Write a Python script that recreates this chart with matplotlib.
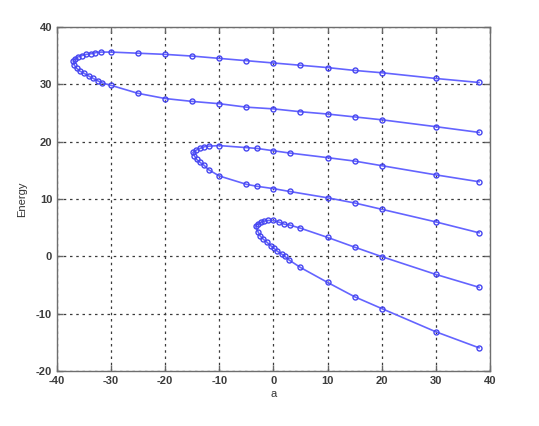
import numpy as np
import matplotlib
matplotlib.use("Agg")
import matplotlib.pyplot as plt

plt.rcParams['font.family'] = ['Liberation Sans', 'DejaVu Sans']
plt.rcParams['axes.unicode_minus'] = False

# curve 1 (top loop), traced from upper right end round the turn to lower right end
a1 = [38, 30, 20, 15, 10, 5, 0, -5, -10, -15, -20, -25, -30,
      -31.9, -32.9, -33.8, -34.6, -35.4, -36.1, -36.7, -37.0,
      -36.8, -36.4, -35.8, -35.0, -34.1, -33.3, -32.5, -31.6,
      -30, -25, -20, -15, -10, -5, 0, 5, 10, 15, 20, 30, 38]
e1 = [30.3, 31.0, 32.0, 32.4, 32.9, 33.3, 33.7, 34.1, 34.5, 34.9, 35.2, 35.4, 35.6,
      35.6, 35.5, 35.3, 35.2, 35.0, 34.8, 34.4, 34.0,
      33.3, 32.8, 32.3, 31.9, 31.4, 31.0, 30.6, 30.2,
      29.8, 28.4, 27.5, 27.0, 26.6, 26.0, 25.7, 25.2, 24.8, 24.3, 23.8, 22.6, 21.6]

# curve 2 (middle loop)
a2 = [38, 30, 20, 15, 10, 3, 0, -3, -5, -10,
      -12.0, -12.8, -13.6, -14.3, -14.9,
      -14.6, -14.2, -13.6, -12.8, -12.0,
      -10, -5, -3, 0, 3, 10, 15, 20, 30, 38]
e2 = [13.0, 14.2, 15.8, 16.6, 17.2, 18.0, 18.4, 18.8, 18.95, 19.3,
      19.2, 19.1, 18.8, 18.5, 18.1,
      17.5, 16.9, 16.4, 15.85, 15.1,
      14.0, 12.55, 12.2, 11.8, 11.3, 10.2, 9.3, 8.2, 6.0, 4.1]

# curve 3 (bottom loop)
a3 = [38, 30, 20, 15, 10, 5, 3, 2, 1, 0,
      -1.0, -1.7, -2.3, -2.9, -3.3,
      -2.8, -2.5, -1.9, -1.2, -0.5, 0.1, 0.7, 1.5, 2.1, 2.9,
      5, 10, 15, 20, 30, 38]
e3 = [-5.4, -3.15, -0.05, 1.6, 3.3, 4.9, 5.45, 5.6, 5.95, 6.25,
      6.25, 6.15, 5.95, 5.65, 5.25,
      4.2, 3.6, 3.0, 2.45, 1.85, 1.4, 0.9, 0.4, 0.0, -0.65,
      -1.95, -4.55, -7.05, -9.1, -13.15, -15.95]

xticks = np.arange(-40, 41, 10)
yticks = np.arange(-20, 41, 10)

fig = plt.figure(figsize=(5.39, 4.26), dpi=100)
ax = fig.add_axes([0.1058, 0.129, 0.803, 0.808])

for a, e in [(a1, e1), (a2, e2), (a3, e3)]:
    ax.plot(a, e, color='#6464ff', linewidth=1.2, marker='o', markersize=3.6,
            markerfacecolor='none', markeredgecolor='#4646f0', markeredgewidth=1.0)

ax.set_xlim(-40, 40)
ax.set_ylim(-20, 40)
ax.set_xticks(xticks)
ax.set_yticks(yticks)
ax.grid(True, linestyle=(0, (2, 3)), color='#3a3a3a', linewidth=0.9)
ax.tick_params(direction='in', length=4, width=1, color='#666666',
               labelsize=8, labelcolor='#3c3c3c', top=True, right=True,
               labeltop=False, labelright=False)
for lbl in ax.get_xticklabels() + ax.get_yticklabels():
    lbl.set_fontweight('bold')
for sp in ax.spines.values():
    sp.set_color('#6e6e6e')
    sp.set_linewidth(1.0)

ax.set_xlabel('a', fontsize=8, color='#333333', labelpad=2)
ax.set_ylabel('Energy', fontsize=8, color='#333333', labelpad=6)

fig.savefig('out.png', dpi=100)
